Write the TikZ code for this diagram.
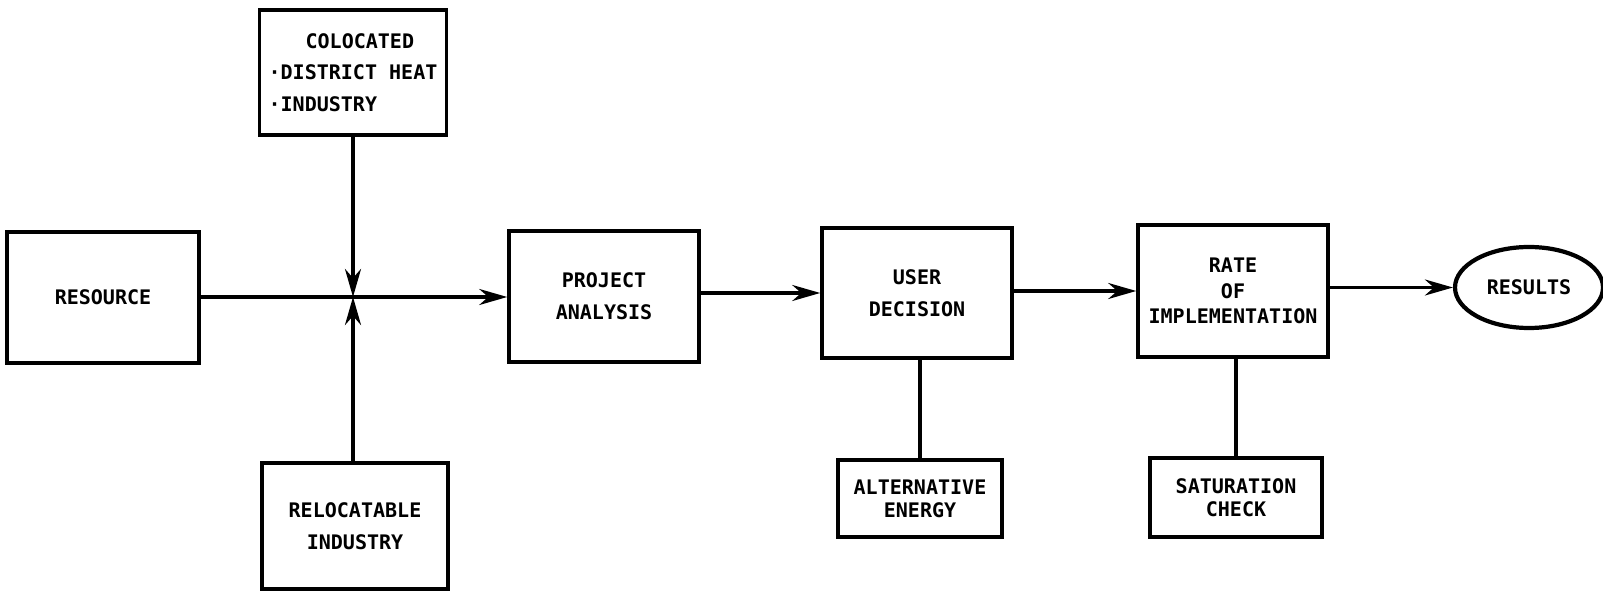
\documentclass[tikz,border=0pt]{standalone}
\usepackage{fontspec}
\newfontfamily\lettering{DejaVu Sans Mono}
\usetikzlibrary{positioning, arrows.meta, calc, shapes.geometric}
\tikzset{
    block/.style={draw, line width=1pt, align=center, inner sep=0pt,
        font=\lettering\bfseries\fontsize{5.7}{9}\selectfont},
    smallblock/.style={block, font=\lettering\bfseries\fontsize{5.7}{6.6}\selectfont},
    flow/.style={line width=0.95pt, -{Stealth[length=2.8mm, width=1.6mm, inset=0.9mm]}},
    link/.style={line width=0.95pt}
}

\begin{document}
\begin{tikzpicture}
    \useasboundingbox (0,0) rectangle (16.03,5.92);

    % Input side
    \node[block, minimum width=1.92cm, minimum height=1.31cm] (resource) at (1.03,2.945) {RESOURCE};
    \node[block, minimum width=1.87cm, minimum height=1.25cm, align=left] (coloc) at (3.53,5.195)
        {\hspace*{0.37cm}COLOCATED\\·DISTRICT HEAT\\·INDUSTRY};
    \node[block, minimum width=1.86cm, minimum height=1.26cm] (reloc) at (3.55,0.66)
        {RELOCATABLE\\INDUSTRY};
    \coordinate (junc) at (3.53,2.95);

    % Main chain
    \node[block, minimum width=1.90cm, minimum height=1.31cm] (project) at (6.04,2.955) {PROJECT\\ANALYSIS};
    \node[block, minimum width=1.90cm, minimum height=1.30cm] (user) at (9.17,2.99) {USER\\DECISION};
    \node[block, minimum width=1.90cm, minimum height=1.32cm, font=\lettering\bfseries\fontsize{5.7}{7.2}\selectfont]
        (rate) at (12.33,3.01) {RATE\\OF\\IMPLEMENTATION};
    \node[draw, ellipse, line width=1.2pt, inner sep=0pt, minimum width=1.48cm, minimum height=0.81cm,
        font=\lettering\bfseries\fontsize{5.7}{9}\selectfont] (results) at (15.29,3.045) {RESULTS};

    % Side checks
    \node[smallblock, minimum width=1.64cm, minimum height=0.77cm] (alt) at (9.20,0.935) {ALTERNATIVE\\ENERGY};
    \node[smallblock, minimum width=1.72cm, minimum height=0.79cm] (sat) at (12.36,0.945) {SATURATION\\CHECK};

    % Connections
    \draw[link] (resource.east |- junc) -- (junc);
    \draw[flow] (junc) -- (project.west |- junc);
    \draw[flow] (coloc.south) -- (junc);
    \draw[flow] (reloc.north -| junc) -- (junc);
    \draw[flow] (project.east |- user.west) -- (user.west);
    \draw[flow] (user.east |- rate.west) -- (rate.west);
    \draw[flow] (rate.east |- results.west) -- (results.west);
    \draw[link] (user.south -| alt.north) -- (alt.north);
    \draw[link] (rate.south -| sat.north) -- (sat.north);
\end{tikzpicture}
\end{document}
